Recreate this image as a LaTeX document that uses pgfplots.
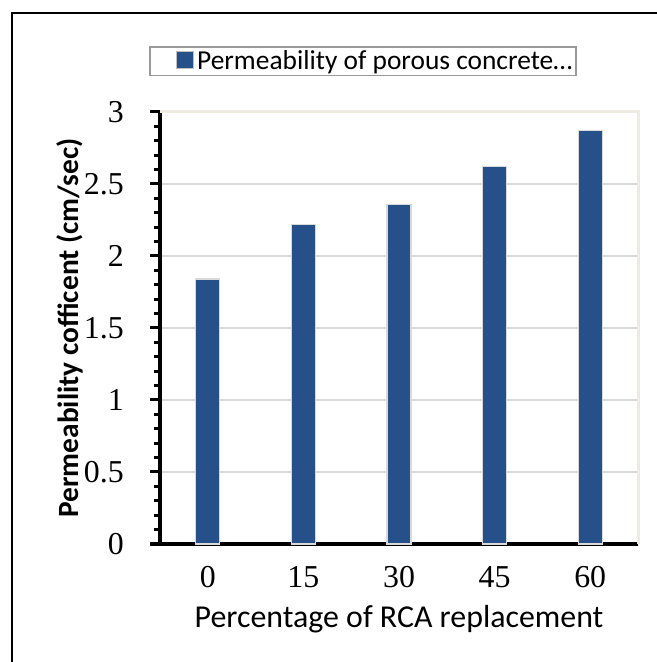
\documentclass[border=0pt]{standalone}
\usepackage{fontspec}
\setmainfont{Liberation Serif}
\newfontfamily\calibri{Carlito}
\usepackage{pgfplots}
\pgfplotsset{compat=1.18}
\definecolor{barblue}{HTML}{25508A}
\definecolor{gridgray}{HTML}{D9D9D9}
\definecolor{frameBeige}{HTML}{EEECE1}

\begin{document}
\begin{tikzpicture}
\path[use as bounding box] (0,0) rectangle (657bp,662bp);
% outer frame
\draw[line width=2bp] (12bp,0) -- (12bp,649bp) -- (657bp,649bp);
\begin{axis}[
  at={(160bp,118bp)}, anchor=south west,
  scale only axis, width=478bp, height=432bp,
  xmin=-0.5, xmax=4.5, ymin=0, ymax=3,
  clip=false,
  ybar, bar width=24bp,
  xtick={0,1,2,3,4}, xticklabels={0,15,30,45,60},
  ytick={0,0.5,1,1.5,2,2.5,3},
  minor y tick num=4,
  axis lines*=left,
  axis line style={line width=3.5bp, black},
  tick align=outside,
  major tick length=10bp, minor tick length=6bp,
  ytick style={line width=3bp, black},
  xtick style={draw=none},
  ymajorgrids, grid style={gridgray, line width=1.5bp},
  /pgf/number format/assume math mode=true,
  tick label style={font=\fontsize{32}{38}\selectfont, inner sep=0pt},
  yticklabel style={anchor=east, xshift=-26bp},
  xticklabel style={anchor=base, yshift=-33bp},
  xlabel={Percentage of RCA replacement},
  ylabel={Permeability cofficent (cm/sec)},
  every axis x label/.style={at={(axis description cs:0.5,-0.194)}, anchor=base,
    font=\calibri\fontsize{32}{38}\selectfont},
  every axis y label/.style={at={(axis description cs:-0.188,0.5)}, rotate=90, anchor=center,
    font=\calibri\bfseries\fontsize{29.5}{35}\selectfont},
  legend style={at={(axis description cs:0.4247,1.118)}, anchor=center,
    draw=gray!80, line width=1.5bp, inner xsep=1bp, inner ysep=1bp,
    font=\calibri\fontsize{27.5}{33}\selectfont,
    nodes={inner sep=3bp}},
  legend image code/.code={%
    \path[draw=none, fill=none] (0bp,0bp) -- (26bp,0bp);
    \draw[fill=barblue, draw=black!25, line width=0.8bp] (26bp,-7bp) rectangle (43bp,10bp);},
]
\addplot[fill=barblue, draw=black!15, line width=1.2bp]
  coordinates {(0,1.84) (1,2.22) (2,2.36) (3,2.62) (4,2.87)};
\addlegendentry{Permeability of porous concrete…}
% plot area border on the top and right
\draw[frameBeige, line width=3bp] (rel axis cs:0,1) -- (rel axis cs:1,1) -- (rel axis cs:1,0);
\end{axis}
\end{tikzpicture}
\end{document}
